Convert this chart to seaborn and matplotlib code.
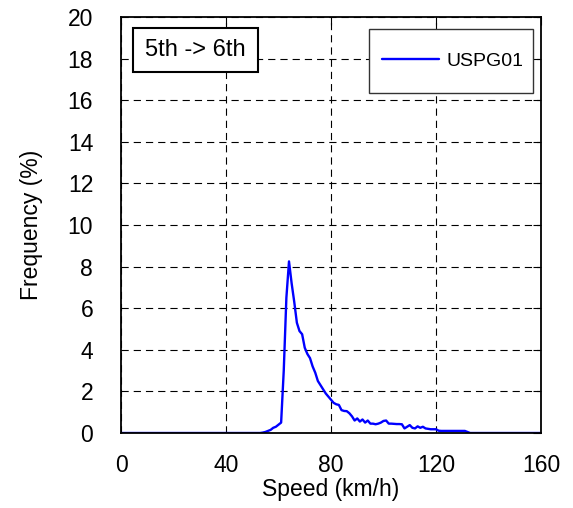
import numpy as np
import pandas as pd
import matplotlib
matplotlib.use("Agg")
import matplotlib.pyplot as plt
from matplotlib.patches import Rectangle
import seaborn as sns

speed = list(range(0, 161))
freq_tail = {
    54: 0.02, 55: 0.05, 56: 0.1, 57: 0.15, 58: 0.25, 59: 0.3, 60: 0.4, 61: 0.5,
    62: 3.0, 63: 6.5, 64: 8.25, 65: 7.2, 66: 6.3, 67: 5.3, 68: 4.9, 69: 4.75,
    70: 4.1, 71: 3.8, 72: 3.6, 73: 3.2, 74: 2.9, 75: 2.5, 76: 2.3, 77: 2.1,
    78: 1.9, 79: 1.75, 80: 1.6, 81: 1.45, 82: 1.38, 83: 1.35, 84: 1.1, 85: 1.06,
    86: 1.05, 87: 0.95, 88: 0.8, 89: 0.6, 90: 0.7, 91: 0.55, 92: 0.65, 93: 0.5,
    94: 0.6, 95: 0.45, 96: 0.45, 97: 0.42, 98: 0.45, 99: 0.5, 100: 0.58, 101: 0.6,
    102: 0.45, 103: 0.45, 104: 0.44, 105: 0.43, 106: 0.43, 107: 0.42, 108: 0.22,
    109: 0.3, 110: 0.38, 111: 0.25, 112: 0.22, 113: 0.32, 114: 0.25, 115: 0.3,
    116: 0.22, 117: 0.2, 118: 0.18, 119: 0.18, 120: 0.18, 121: 0.11, 122: 0.1,
    123: 0.1, 124: 0.1, 125: 0.1, 126: 0.1, 127: 0.1, 128: 0.1, 129: 0.1,
    130: 0.1, 131: 0.1, 132: 0.05,
}
frequency = [freq_tail.get(s, 0.0) for s in speed]
series_name = "USPG01"
annotation = "5th -> 6th"
x_ticks = [0, 40, 80, 120, 160]
y_ticks = list(range(0, 21, 2))

sns.set_style("white")
plt.rcParams['font.family'] = ['Liberation Sans', 'DejaVu Sans']
plt.rcParams['text.color'] = 'black'
plt.rcParams['axes.labelcolor'] = 'black'

df = pd.DataFrame({"Speed": speed, "Frequency": frequency, "Series": series_name})

fig = plt.figure(figsize=(5.73, 5.08), dpi=100)
ax = fig.add_axes([121/573, 1-433/508, 420/573, 416/508])

sns.lineplot(data=df, x="Speed", y="Frequency", hue="Series", palette=["#0000ff"],
             linewidth=1.7, ax=ax, legend=True)

ax.set_xlim(0, 160)
ax.set_ylim(0, 20)
ax.set_xticks(x_ticks)
ax.set_yticks(y_ticks)
ax.grid(True, color="black", linestyle=(0, (6.5, 4.5)), linewidth=0.8)
ax.set_axisbelow(True)
ax.tick_params(direction="in", length=6, width=0.8, top=True, right=True,
               labelsize=16.5, colors="black")
ax.tick_params(axis="x", pad=15)
ax.tick_params(axis="y", pad=20)
for sp in ax.spines.values():
    sp.set_color("black")
    sp.set_linewidth(1.3)
    sp.set_visible(True)

ax.set_xlabel("Speed (km/h)", fontsize=16.5, labelpad=0.5)
ax.set_ylabel("Frequency (%)", fontsize=16.5, labelpad=18)

# legend
ax.add_patch(Rectangle((248/420, (433-93)/416), 164/420, 64/416, transform=ax.transAxes,
                       facecolor="white", edgecolor="#333333", linewidth=1.0, zorder=4))
leg = ax.legend(loc="center", bbox_to_anchor=(332/420, (433-61)/416), fontsize=14,
                frameon=False, handlelength=2.9, borderpad=0, handletextpad=0.4,
                borderaxespad=0)
leg.set_zorder(5)

# annotation box
ax.add_patch(Rectangle((12/420, (433-72)/416), 125/420, 44/416, transform=ax.transAxes,
                       facecolor="white", edgecolor="black", linewidth=1.5, zorder=4))
ax.text(74.5/420, (433-50)/416, annotation, transform=ax.transAxes, fontsize=17,
        ha="center", va="center", zorder=5)

fig.savefig("out.png", dpi=100)
